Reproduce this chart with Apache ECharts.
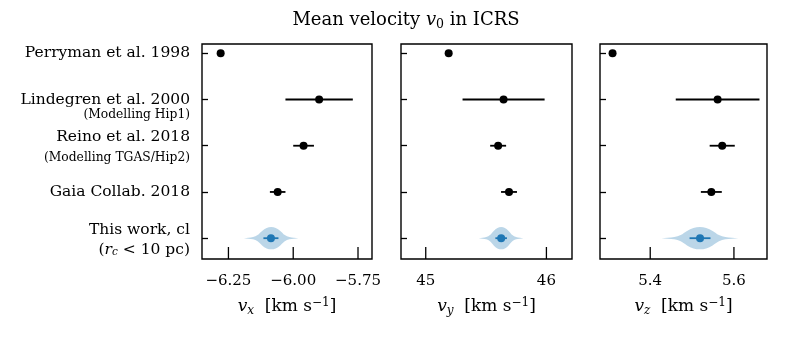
<!DOCTYPE html>
<html>
<head>
<meta charset="utf-8">
<script src="https://cdn.jsdelivr.net/npm/echarts@6.0.0/dist/echarts.min.js"></script>
<style>
  html, body { margin: 0; padding: 0; background: #fff; }
  #chart { width: 789px; height: 338px; }
</style>
</head>
<body>
<div id="chart"></div>
<script>
// studies, top to bottom
var studies = ['Perryman et al. 1998', 'Lindegren et al. 2000', 'Reino et al. 2018', 'Gaia Collab. 2018', 'This work, cl'];

// mean velocity components (km/s) and their errors
var vx = [-6.28, -5.90, -5.96, -6.06, -6.086];
var vxErr = [0, 0.13, 0.04, 0.03, 0.029];
var vy = [45.19, 45.645, 45.60, 45.69, 45.625];
var vyErr = [0, 0.34, 0.066, 0.066, 0.048];
var vz = [5.31, 5.561, 5.572, 5.546, 5.519];
var vzErr = [0, 0.10, 0.03, 0.025, 0.025];

// extent of the violin for "this work"
var vxViolin = [-6.19, -5.98];
var vyViolin = [45.44, 45.81];
var vzViolin = [5.427, 5.61];
// relative half width of the violin
var violinShape = [0, 0.04, 0.1, 0.28, 0.65, 0.92, 1.0, 0.92, 0.65, 0.28, 0.1, 0.04, 0];

// x tick positions of each panel
var vxTicks = [-6.25, -6.0, -5.75];
var vyTicks = [45, 46];
var vzTicks = [5.4, 5.6];

var FONT = 'DejaVu Serif';
var BLUE = '#1f77b4';
var YMIN = -0.2, YMAX = 4.45;

function fmtTick(dec) {
	return function (v) {
		var s = Math.abs(v).toFixed(dec);
		return (v < 0 ? '\u2212' : '') + s;
	};
}

var mathRich = {
	r: { fontFamily: FONT, fontSize: 17, color: '#000', lineHeight: 20 },
	i: { fontFamily: FONT, fontStyle: 'italic', fontSize: 17, color: '#000', lineHeight: 20 },
	sub: { fontFamily: FONT, fontStyle: 'italic', fontSize: 12, color: '#000', lineHeight: 8, verticalAlign: 'bottom' },
	sup: { fontFamily: FONT, fontSize: 12, color: '#000', lineHeight: 8, verticalAlign: 'top' }
};

var labelRich = {
	m: { fontFamily: FONT, fontSize: 15.5, color: '#000', lineHeight: 18 },
	g: { fontFamily: FONT, fontSize: 2, lineHeight: 13.4 },
	s: { fontFamily: FONT, fontSize: 12.3, color: '#000', lineHeight: 13.4 },
	m2: { fontFamily: FONT, fontSize: 15.5, color: '#000', lineHeight: 24.4 },
	s2: { fontFamily: FONT, fontSize: 12.3, color: '#000', lineHeight: 17.2 },
	m3: { fontFamily: FONT, fontSize: 15.5, color: '#000', lineHeight: 23.4 },
	p: { fontFamily: FONT, fontSize: 15.5, color: '#000', lineHeight: 16.6 },
	pi: { fontFamily: FONT, fontStyle: 'italic', fontSize: 15.5, color: '#000', lineHeight: 16.6 },
	pc: { fontFamily: FONT, fontStyle: 'italic', fontSize: 10.5, color: '#000', lineHeight: 7, verticalAlign: 'bottom' }
};

var yLabels = [
	'{m|' + studies[0] + '}',
	'{g| }\n{m|' + studies[1] + '}\n{s|(Modelling Hip1)}',
	'{m2|' + studies[2] + '}\n{s2|(Modelling TGAS/Hip2)}',
	'{m|' + studies[3] + '}',
	'{m3|' + studies[4] + '}\n{p|(}{pi|r}{pc|c}{p| < 10 pc)}'
];

var panels = [
	{ left: 202, width: 170, min: -6.352, max: -5.696, ticks: vxTicks, dec: 2, v: vx, err: vxErr, violin: vxViolin, comp: 'x' },
	{ left: 401, width: 171, min: 44.795, max: 46.212, ticks: vyTicks, dec: 0, v: vy, err: vyErr, violin: vyViolin, comp: 'y' },
	{ left: 600, width: 167, min: 5.280, max: 5.679, ticks: vzTicks, dec: 1, v: vz, err: vzErr, violin: vzViolin, comp: 'z' }
];

var grids = [], xAxes = [], yAxes = [], series = [];
var catIdx = [0, 1, 2, 3, 4];

panels.forEach(function (p, k) {
	grids.push({
		left: p.left, width: p.width, top: 44, height: 215,
		show: true, borderColor: '#000', borderWidth: 1.4, backgroundColor: 'transparent'
	});
	xAxes.push({
		type: 'value', gridIndex: k, min: p.min, max: p.max, position: 'bottom',
		axisLine: { show: false, onZero: false },
		splitLine: { show: false },
		axisTick: { show: false },
		axisLabel: { customValues: p.ticks, formatter: fmtTick(p.dec), margin: 15, fontFamily: FONT, fontSize: 15, color: '#000' },
		name: '{i|v}{sub|' + p.comp + '}{r|  [km s}{sup|\u22121}{r|]}',
		nameLocation: 'middle', nameGap: 38,
		nameTextStyle: { rich: mathRich }
	});
	yAxes.push({
		type: 'value', gridIndex: k, inverse: true, min: YMIN, max: YMAX, position: 'left',
		axisLine: { show: false, onZero: false },
		splitLine: { show: false },
		axisTick: { show: true, inside: true, length: 6, customValues: catIdx, lineStyle: { color: '#000', width: 1.3 } },
		axisLabel: {
			show: k === 0, customValues: catIdx, margin: 12, align: 'right',
			formatter: function (v) { return yLabels[Math.round(v)]; },
			rich: labelRich
		}
	});

	// inward x ticks on the bottom spine
	series.push({
		type: 'custom', xAxisIndex: k, yAxisIndex: k, z: 4, silent: true,
		data: p.ticks.map(function (t) { return [t, YMAX]; }),
		renderItem: function (params, api) {
			var b = api.coord([api.value(0), api.value(1)]);
			return {
				type: 'line',
				shape: { x1: b[0], y1: b[1], x2: b[0], y2: b[1] - 12 },
				style: { stroke: '#000', lineWidth: 1.3 }
			};
		}
	});

	// violin for this work
	series.push({
		type: 'custom', xAxisIndex: k, yAxisIndex: k, z: 1,
		data: [[p.violin[0], p.violin[1], 4]],
		renderItem: function (params, api) {
			var lo = api.value(0), hi = api.value(1), y = api.value(2);
			var n = violinShape.length, top = [], bot = [];
			for (var i = 0; i < n; i++) {
				var x = lo + (hi - lo) * i / (n - 1);
				top.push(api.coord([x, y - 0.24 * violinShape[i]]));
				bot.push(api.coord([x, y + 0.24 * violinShape[i]]));
			}
			return {
				type: 'polygon',
				shape: { points: top.concat(bot.reverse()), smooth: 0.35 },
				style: { fill: 'rgba(31,119,180,0.3)' }
			};
		}
	});

	// error bars
	series.push({
		type: 'custom', xAxisIndex: k, yAxisIndex: k, z: 2,
		data: p.v.map(function (v, i) { return [v, p.err[i], i]; }),
		renderItem: function (params, api) {
			var v = api.value(0), e = api.value(1), y = api.value(2);
			var a = api.coord([v - e, y]), b = api.coord([v + e, y]);
			return {
				type: 'line',
				shape: { x1: a[0], y1: a[1], x2: b[0], y2: b[1] },
				style: { stroke: y === 4 ? BLUE : '#000', lineWidth: 1.8 }
			};
		}
	});

	// means
	series.push({
		type: 'scatter', xAxisIndex: k, yAxisIndex: k, z: 3,
		symbolSize: 8,
		data: p.v.map(function (v, i) {
			return { value: [v, i], itemStyle: { color: i === 4 ? BLUE : '#000', opacity: 1 } };
		})
	});
});

var myChart = echarts.init(document.getElementById('chart'), null, { renderer: 'canvas' });
myChart.setOption({
	animation: false,
	backgroundColor: '#fff',
	title: {
		text: '{r|Mean velocity }{i|v}{sub|0}{r| in ICRS}',
		left: 401, top: 4, textAlign: 'center',
		textStyle: {
			fontWeight: 'normal',
			rich: {
				r: { fontFamily: FONT, fontWeight: 'normal', fontSize: 18, color: '#000', lineHeight: 22 },
				i: { fontFamily: FONT, fontWeight: 'normal', fontStyle: 'italic', fontSize: 18, color: '#000', lineHeight: 22 },
				sub: { fontFamily: FONT, fontWeight: 'normal', fontSize: 12.5, color: '#000', lineHeight: 9, verticalAlign: 'bottom' }
			}
		}
	},
	grid: grids,
	xAxis: xAxes,
	yAxis: yAxes,
	series: series
});
</script>
</body>
</html>
